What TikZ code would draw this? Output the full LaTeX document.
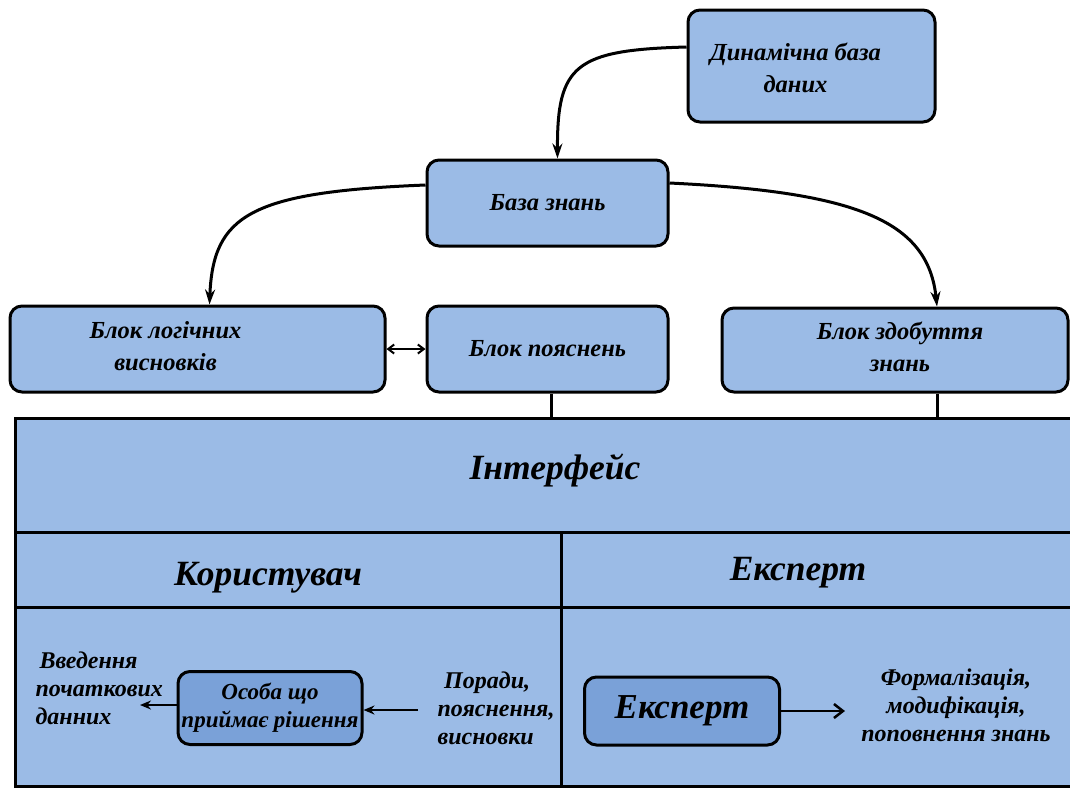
\documentclass[tikz,border=0pt]{standalone}
\usepackage{fontspec}
\setmainfont{Liberation Serif}
\usetikzlibrary{arrows.meta}

\begin{document}
\begin{tikzpicture}[x=1pt,y=-1pt,
  blk/.style={draw,line width=3pt,rounded corners=12pt,fill=boxblue,align=center,inner sep=0pt,
    font=\bfseries\itshape\fontsize{24.5}{32}\selectfont},
  blktext/.style={align=center,font=\bfseries\itshape\fontsize{24.5}{32}\selectfont},
  darkblk/.style={blk,fill=boxdark},
  hdr/.style={font=\bfseries\itshape\fontsize{35.5}{40}\selectfont},
  note/.style={align=left,font=\bfseries\itshape\fontsize{24}{28}\selectfont},
  link/.style={line width=3pt,-{Stealth[length=15pt,width=10pt]}},
  thin link/.style={line width=2.5pt,-{Stealth[length=11pt,width=9pt]}}]
\definecolor{boxblue}{HTML}{9BBBE6}
\definecolor{boxdark}{HTML}{7AA1D8}
\useasboundingbox (0,0) rectangle (1070,788);

\fill[boxblue] (15,418) rectangle (1075,786);
\draw[line width=3pt] (1075,418) -- (15,418) -- (15,786) -- (1075,786);
\draw[line width=3pt] (15,532) -- (1075,532) (15,607) -- (1075,607) (561,532) -- (561,786);
\coordinate (ptop) at (0,418);

\node[blk,minimum width=247pt,minimum height=112pt,
  label={[name=dyntext,blktext,xshift=-16pt,yshift=-2pt]center:Динамічна база\\даних}] (dyn) at (811.5,66) {};
\node[blk,minimum width=241pt,minimum height=86pt] (kb) at (547.5,203) {База знань};
\node[blk,minimum width=375pt,minimum height=86pt,
  label={[name=infertext,blktext,xshift=-32pt,yshift=3pt]center:Блок логічних\\висновків}] (infer) at (197.5,349) {};
\node[blk,minimum width=241pt,minimum height=86pt] (expl) at (547.5,349) {Блок пояснень};
\node[blk,minimum width=346pt,minimum height=84pt,
  label={[name=acqtext,blktext,xshift=5pt,yshift=3pt]center:Блок здобуття\\знань}] (acq) at (895,350) {};

\node[hdr] (iface) at (555,470) {Інтерфейс};
\node[hdr] (user) at (268,578) {Користувач};
\node[hdr] (expt) at (798,573) {Експерт};

\node[darkblk,minimum width=184pt,minimum height=73pt,font=\bfseries\itshape\fontsize{23}{28}\selectfont] (person) at (270,708) {Особа що\\приймає рішення};
\node[darkblk,minimum width=195pt,minimum height=68pt,font=\bfseries\itshape\fontsize{35}{38}\selectfont] (expbox) at (682,711) {Експерт};

\node[note,anchor=west] (input) at (32,688) {\,Введення\\початкових\\данних};
\node[note,anchor=west] (advice) at (434,708) {\;Поради,\\пояснення,\\висновки};
\node[note,align=center] (formal) at (956,705) {Формалізація,\\модифікація,\\поповнення знань};

\coordinate (inend) at (140,705);
\coordinate (adstart) at (418,710);
\coordinate (formend) at (845,711);

\draw[link] ([yshift=19pt]dyn.west) .. controls (575,50) and (557,65) .. ([xshift=10pt]kb.north);
\draw[link] ([yshift=18pt]kb.west) .. controls (250,192) and (213,215) .. ([xshift=12pt]infer.north);
\draw[link] ([yshift=20pt]kb.east) .. controls (855,192) and (928,220) .. ([xshift=42pt]acq.north);
\draw[line width=2pt,{Straight Barb[length=6pt,width=9pt]}-{Straight Barb[length=6pt,width=9pt]}] (infer) -- (expl);

\foreach \n/\dx in {expl/4,acq/42}
  \draw[line width=3pt] ([xshift=\dx pt]\n.south) -- ([xshift=\dx pt]\n.south |- ptop);

\draw[thin link] (person.west |- inend) -- (inend);
\draw[thin link] (adstart) -- (person.east |- adstart);
\draw[line width=2.5pt,-{Straight Barb[length=9pt,width=14pt]}] (expbox) -- (formend);
\end{tikzpicture}
\end{document}
